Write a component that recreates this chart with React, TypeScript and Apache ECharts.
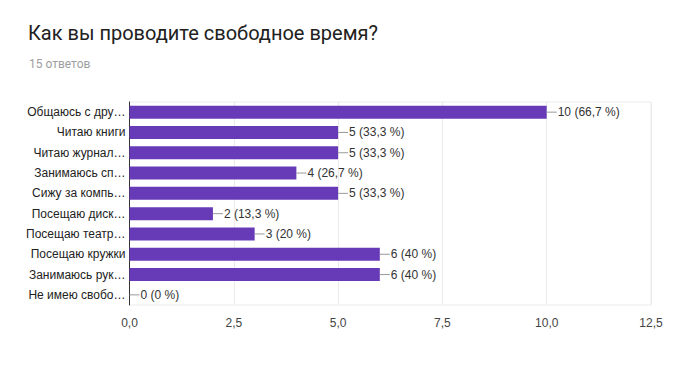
import React, { useEffect, useRef } from "react";
import * as echarts from "echarts";

const categories = [
  "Общаюсь с дру…",
  "Читаю книги",
  "Читаю журнал…",
  "Занимаюсь сп…",
  "Сижу за компь…",
  "Посещаю диск…",
  "Посещаю театр…",
  "Посещаю кружки",
  "Занимаюсь рук…",
  "Не имею свобо…",
];
const values = [10, 5, 5, 4, 5, 2, 3, 6, 6, 0];
const totalResponses = 15;
const xTicks = [0, 2.5, 5, 7.5, 10, 12.5];

const fmtNum = (v: number, d: number) => v.toFixed(d).replace(".", ",");
const pct = (v: number) => {
  const p = Math.round((v / totalResponses) * 1000) / 10;
  const s = Number.isInteger(p) ? String(p) : fmtNum(p, 1);
  return s;
};

export default function App() {
  const ref = useRef<HTMLDivElement>(null);
  useEffect(() => {
    if (!ref.current) return;
    const chart = echarts.init(ref.current, undefined, { renderer: "svg" });
    chart.setOption({
      animation: false,
      title: [
        {
          text: "Как вы проводите свободное время?",
          left: 15,
          top: 10,
          textStyle: { fontFamily: "Roboto", fontSize: 20, fontWeight: "normal", color: "#212121" },
        },
        {
          text: "15 ответов",
          left: 16,
          top: 45,
          textStyle: { fontFamily: "Roboto", fontSize: 12, fontWeight: "normal", color: "#9e9e9e" },
        },
      ],
      grid: {
        left: 121.5,
        right: 32,
        top: 94,
        height: 203,
        show: true,
        borderColor: "#ebebeb",
        borderWidth: 1,
        containLabel: false,
      },
      xAxis: {
        type: "value",
        min: xTicks[0],
        max: xTicks[xTicks.length - 1],
        interval: 2.5,
        axisLine: { show: false },
        axisTick: { show: false },
        splitLine: { show: true, lineStyle: { color: "#ebebeb", width: 1 } },
        axisLabel: {
          margin: 12,
          color: "#444",
          fontFamily: "Liberation Sans",
          fontSize: 12,
          formatter: (v: number) => fmtNum(v, 1),
        },
      },
      yAxis: {
        type: "category",
        inverse: true,
        data: categories,
        axisLine: { show: true, lineStyle: { color: "#333", width: 1 } },
        axisTick: { show: false },
        splitLine: { show: false },
        axisLabel: {
          margin: 4,
          color: "#222",
          fontFamily: "Liberation Sans",
          fontSize: 12,
        },
      },
      series: [
        {
          type: "bar",
          data: values,
          barWidth: 13,
          itemStyle: { color: "#673ab7" },
          label: {
            show: true,
            position: "right",
            distance: 0,
            formatter: (p: any) => `{l|}{t|${p.value} (${pct(p.value)} %)}`,
            rich: {
              l: { width: 10, height: 1, backgroundColor: "#999", verticalAlign: "middle" },
              t: { color: "#333", fontFamily: "Liberation Sans", fontSize: 12, padding: [0, 0, 0, 1] },
            },
          },
        },
      ],
    });
    return () => chart.dispose();
  }, []);
  return <div ref={ref} style={{ width: 675, height: 357 }} />;
}
